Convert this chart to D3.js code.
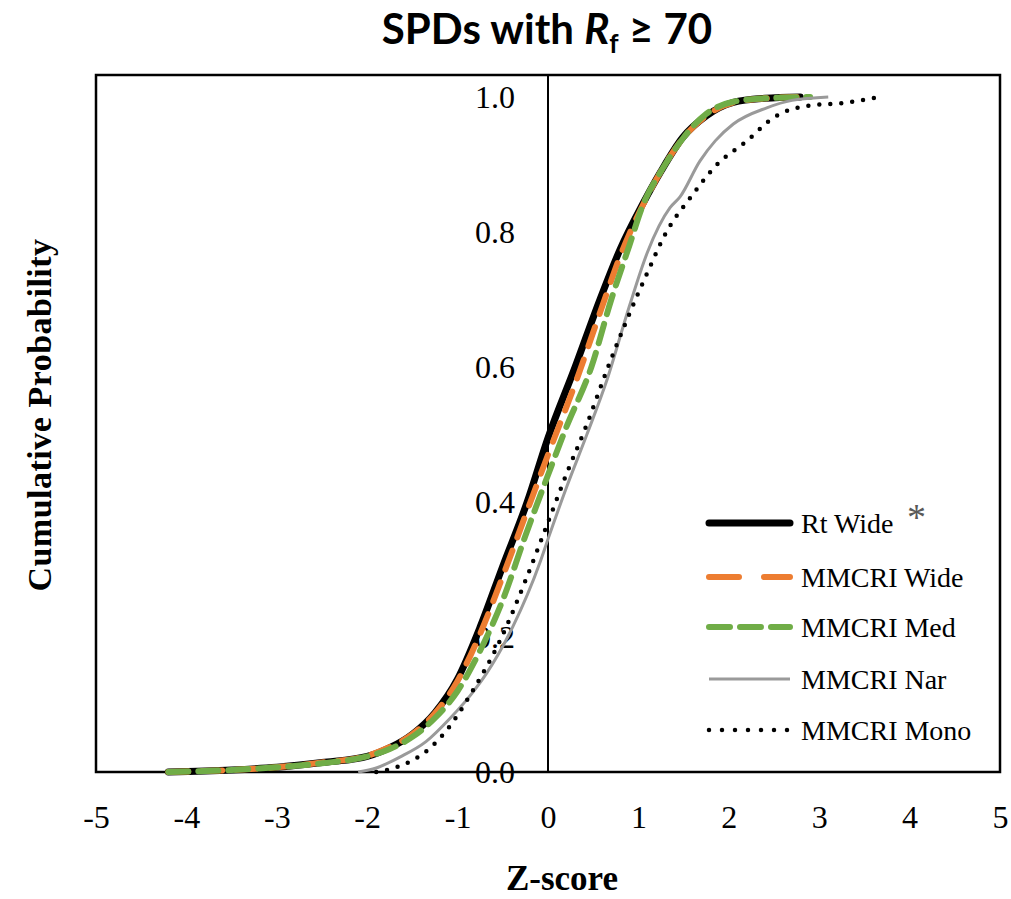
<!DOCTYPE html>
<html>
<head>
<meta charset="utf-8">
<script src="https://cdn.jsdelivr.net/npm/d3@7"></script>
<style>
  html, body { margin: 0; padding: 0; background: #fff; }
  svg { display: block; }
</style>
</head>
<body>
<div id="chart"></div>
<script>
// Series: [z-score, cumulative probability]
const seriesNames = ['Rt Wide', 'MMCRI Wide', 'MMCRI Med', 'MMCRI Nar', 'MMCRI Mono'];

const rtWide = [
    [-4.2, 0], [-3.5, 0.003], [-3.0, 0.007], [-2.5, 0.014], [-2.0, 0.023], [-1.75, 0.036],
    [-1.5, 0.056], [-1.25, 0.088], [-1.0, 0.138], [-0.75, 0.215], [-0.5, 0.305], [-0.23, 0.40],
    [0, 0.495], [0.3, 0.6], [0.575, 0.70], [0.8, 0.775], [1.05, 0.842], [1.25, 0.89],
    [1.49, 0.94], [1.75, 0.972], [2.05, 0.992], [2.4, 0.998], [2.79, 1.0]
];
const mmcriWide = [
    [-4.2, 0], [-3.5, 0.003], [-3.0, 0.007], [-2.5, 0.014], [-2.0, 0.024], [-1.75, 0.037],
    [-1.5, 0.056], [-1.25, 0.087], [-1.0, 0.135], [-0.75, 0.205], [-0.5, 0.29], [-0.25, 0.38],
    [0, 0.47], [0.3, 0.575], [0.6, 0.69], [0.8, 0.765], [1.05, 0.84], [1.25, 0.89],
    [1.5, 0.94], [1.75, 0.972], [2.05, 0.992], [2.4, 0.998], [2.75, 1.0]
];
const mmcriMed = [
    [-4.2, 0], [-3.5, 0.003], [-3.0, 0.007], [-2.5, 0.013], [-2.0, 0.023], [-1.75, 0.034],
    [-1.5, 0.052], [-1.25, 0.08], [-1.0, 0.12], [-0.75, 0.18], [-0.5, 0.255], [-0.25, 0.35],
    [0, 0.44], [0.2, 0.51], [0.48, 0.6], [0.7, 0.70], [0.9, 0.78], [1.05, 0.84], [1.25, 0.89],
    [1.5, 0.94], [1.75, 0.975], [2.05, 0.993], [2.4, 0.998], [2.9, 1.0]
];
const mmcriNar = [
    [-2.1, 0], [-1.9, 0.006], [-1.64, 0.022], [-1.35, 0.045], [-1.08, 0.08], [-0.85, 0.115],
    [-0.68, 0.146], [-0.39, 0.215], [-0.09, 0.31], [0, 0.345], [0.2, 0.42], [0.43, 0.50],
    [0.65, 0.58], [0.9, 0.69], [1.1, 0.77], [1.35, 0.836], [1.46, 0.852], [1.68, 0.905],
    [1.85, 0.935], [2.05, 0.96], [2.42, 0.984], [2.7, 0.995], [3.1, 1.0]
];
const mmcriMono = [
    [-1.9, 0], [-1.7, 0.006], [-1.49, 0.018], [-1.3, 0.036], [-1.12, 0.062], [-0.83, 0.121],
    [-0.53, 0.195], [-0.23, 0.29], [0, 0.37], [0.2, 0.44], [0.43, 0.515], [0.65, 0.595],
    [0.87, 0.669], [1.1, 0.74], [1.31, 0.80], [1.57, 0.85], [1.87, 0.90], [2.2, 0.935],
    [2.49, 0.969], [2.87, 0.987], [3.26, 0.991], [3.67, 1.0]
];
const seriesValues = [rtWide, mmcriWide, mmcriMed, mmcriNar, mmcriMono];

const xTicks = [-5, -4, -3, -2, -1, 0, 1, 2, 3, 4, 5];
const yTicks = [0, 0.2, 0.4, 0.6, 0.8, 1.0];

// Line styles per series (same order as seriesNames)
const styles = [
    { color: '#000000', width: 7,   dash: null,    legendDash: null,    cap: 'round' },
    { color: '#ed7d31', width: 6,   dash: '20,14', legendDash: '30,25', cap: 'round' },
    { color: '#70ad47', width: 6,   dash: '20,10', legendDash: '21,10', cap: 'round' },
    { color: '#9a9a9a', width: 3,   dash: null,    legendDash: null,    cap: 'butt' },
    { color: '#000000', width: 4.5, dash: '0,11',  legendDash: '0,13',  cap: 'round' }
];

const W = 1011, H = 899;
const plot = { left: 96, right: 1000, top: 75, bottom: 772 };

const svg = d3.select('#chart').append('svg')
    .attr('width', W)
    .attr('height', H);

const x = d3.scaleLinear().domain([-5, 5]).range([plot.left, plot.right]);
const y = d3.scaleLinear().domain([0, 1.0326]).range([plot.bottom, plot.top]);

// Title
const title = svg.append('text')
    .attr('x', 547)
    .attr('y', 44)
    .attr('text-anchor', 'middle')
    .attr('font-family', 'Lato, "Open Sans", sans-serif')
    .attr('font-weight', 'bold')
    .attr('font-size', '42px')
    .attr('fill', '#000');
title.append('tspan').text('SPDs with ');
title.append('tspan').attr('font-style', 'italic').text('R');
title.append('tspan').attr('font-size', '26px').attr('dy', 9).text('f');
title.append('tspan').attr('dy', -9).text(' \u2265 70');

// Plot box
svg.append('rect')
    .attr('x', plot.left)
    .attr('y', plot.top)
    .attr('width', plot.right - plot.left)
    .attr('height', plot.bottom - plot.top)
    .attr('fill', 'none')
    .attr('stroke', '#000')
    .attr('stroke-width', 2.5);

// Vertical axis line at z = 0
svg.append('line')
    .attr('x1', x(0)).attr('x2', x(0))
    .attr('y1', plot.top).attr('y2', plot.bottom)
    .attr('stroke', '#000')
    .attr('stroke-width', 2);

const serif = '"Liberation Serif", "Times New Roman", serif';

// Y axis labels, left of the z = 0 line
const yAxis = svg.append('g')
    .attr('transform', `translate(${x(0) - 33}, 0)`)
    .call(d3.axisLeft(y).tickValues(yTicks).tickSize(0).tickPadding(0).tickFormat(d3.format('.1f')));
yAxis.select('.domain').remove();
yAxis.selectAll('text')
    .attr('font-family', serif)
    .attr('font-size', '32px')
    .attr('fill', '#000')
    .attr('x', 0);

// X axis labels
const xAxis = svg.append('g')
    .attr('transform', `translate(0, ${plot.bottom})`)
    .call(d3.axisBottom(x).tickValues(xTicks).tickSize(0).tickPadding(33).tickFormat(d => String(d)));
xAxis.select('.domain').remove();
xAxis.selectAll('text')
    .attr('font-family', serif)
    .attr('font-size', '32px')
    .attr('fill', '#000');

// Axis titles
svg.append('text')
    .attr('x', 562)
    .attr('y', 890)
    .attr('text-anchor', 'middle')
    .attr('font-family', serif)
    .attr('font-weight', 'bold')
    .attr('font-size', '35px')
    .text('Z-score');

svg.append('text')
    .attr('transform', `translate(51, 415) rotate(-90)`)
    .attr('text-anchor', 'middle')
    .attr('font-family', serif)
    .attr('font-weight', 'bold')
    .attr('font-size', '34px')
    .attr('letter-spacing', '0.5px')
    .text('Cumulative Probability');

// Curves
const line = d3.line()
    .x(d => x(d[0]))
    .y(d => y(d[1]))
    .curve(d3.curveMonotoneX);

const curves = svg.append('g').attr('class', 'curves');
seriesValues.forEach((vals, i) => {
    const s = styles[i];
    curves.append('path')
        .datum(vals)
        .attr('d', line)
        .attr('fill', 'none')
        .attr('stroke', s.color)
        .attr('stroke-width', s.width)
        .attr('stroke-linecap', s.cap)
        .attr('stroke-linejoin', 'round')
        .attr('stroke-dasharray', s.dash);
});

// Legend
const legendRows = [523, 577, 627, 679, 730];
const legend = svg.append('g').attr('class', 'legend');
seriesNames.forEach((name, i) => {
    const s = styles[i];
    legend.append('line')
        .attr('x1', 709).attr('x2', 790)
        .attr('y1', legendRows[i]).attr('y2', legendRows[i])
        .attr('stroke', s.color)
        .attr('stroke-width', s.width)
        .attr('stroke-linecap', s.cap)
        .attr('stroke-dasharray', s.legendDash);
    legend.append('text')
        .attr('x', 801)
        .attr('y', legendRows[i])
        .attr('dy', '0.35em')
        .attr('font-family', serif)
        .attr('font-size', '28px')
        .attr('fill', '#000')
        .text(name);
});
legend.append('text')
    .attr('x', 907)
    .attr('y', 530)
    .attr('font-family', serif)
    .attr('font-size', '38px')
    .attr('fill', '#595959')
    .text('*');
</script>
</body>
</html>
